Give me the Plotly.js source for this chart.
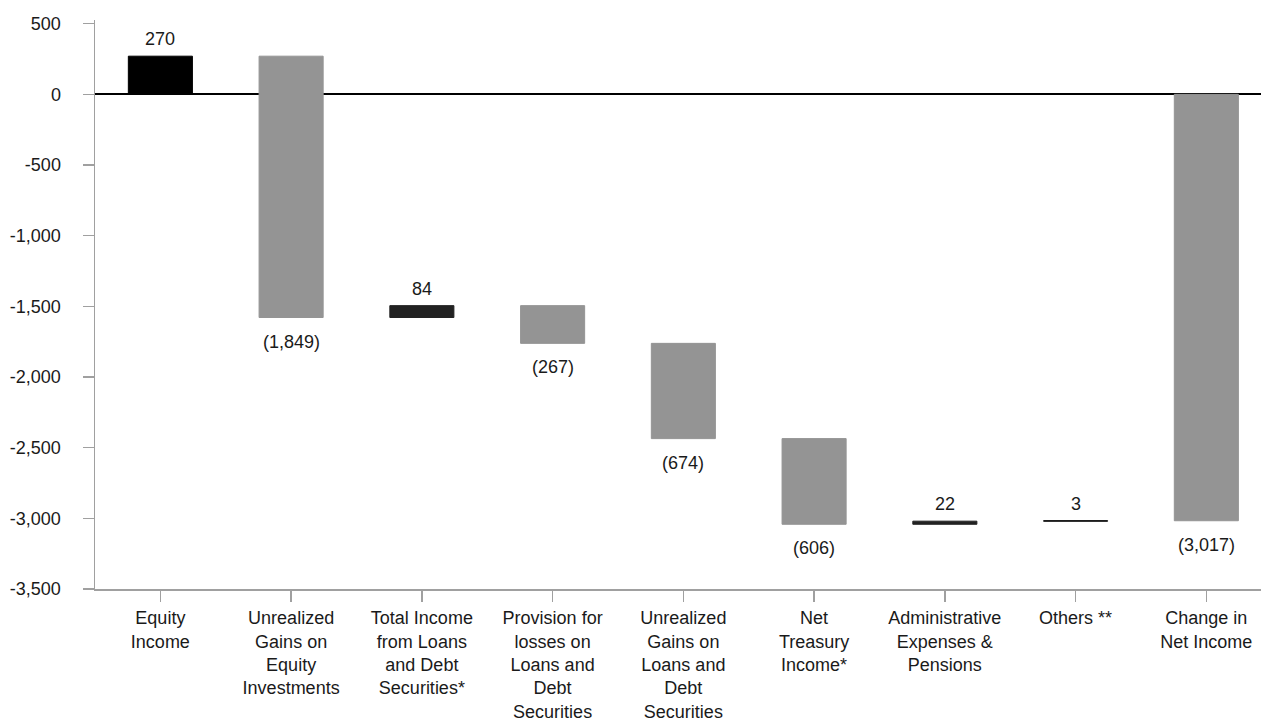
<!DOCTYPE html>
<html>
<head>
<meta charset="utf-8">
<script src="https://cdn.plot.ly/plotly-3.0.1.min.js"></script>
<style>
html,body{margin:0;padding:0;background:#fff;}
#chart{width:1261px;height:721px;}
</style>
</head>
<body>
<div id="chart"></div>
<script>
// ---- data ----
const categories = [
  "Equity<br>Income",
  "Unrealized<br>Gains on<br>Equity<br>Investments",
  "Total Income<br>from Loans<br>and Debt<br>Securities*",
  "Provision for<br>losses on<br>Loans and<br>Debt<br>Securities",
  "Unrealized<br>Gains on<br>Loans and<br>Debt<br>Securities",
  "Net<br>Treasury<br>Income*",
  "Administrative<br>Expenses &<br>Pensions",
  "Others **",
  "Change in<br>Net Income"
];
const values = [270, -1849, 84, -267, -674, -606, 22, 3, -3017];
const measures = ["relative","relative","relative","relative","relative","relative","relative","relative","total"];
const yTickVals = [500, 0, -500, -1000, -1500, -2000, -2500, -3000, -3500];
const yTickText = ["500", "0", "-500", "-1,000", "-1,500", "-2,000", "-2,500", "-3,000", "-3,500"];

// ---- styles ----
const barColors = ["#000000","#949494","#222222","#949494","#949494","#949494","#222222","#000000","#949494"];
const FONT = "Liberation Sans, Arial, Helvetica, sans-serif";

// ---- derived (waterfall) ----
const idx = categories.map((c, i) => i);
const bases = [];
const heights = [];
let running = 0;
values.forEach((v, i) => {
  if (measures[i] === "total") {
    bases.push(0);
    heights.push(v);
  } else {
    bases.push(running);
    heights.push(v);
    running += v;
  }
});

function fmt(v) {
  const s = Math.abs(v).toLocaleString("en-US");
  return v < 0 ? "(" + s + ")" : s;
}

const annotations = values.map((v, i) => {
  const end = bases[i] + heights[i];
  const top = Math.max(bases[i], end);
  const bottom = Math.min(bases[i], end);
  const pos = v >= 0;
  return {
    x: i, y: pos ? top : bottom, xref: "x", yref: "y",
    text: fmt(v), showarrow: false,
    yanchor: pos ? "bottom" : "top",
    yshift: pos ? 5 : -12,
    font: {family: FONT, size: 18, color: "#1a1a1a"}
  };
});

const trace = {
  type: "bar",
  x: idx,
  y: heights,
  base: bases,
  marker: {color: barColors, line: {width: 1, color: barColors}},
  hoverinfo: "skip"
};

const layout = {
  width: 1261, height: 721,
  margin: {l: 94.5, r: 0, t: 20, b: 131.5, pad: 0},
  paper_bgcolor: "#ffffff", plot_bgcolor: "#ffffff",
  showlegend: false,
  bargap: 0.51,
  font: {family: FONT, size: 18, color: "#1a1a1a"},
  xaxis: {
    range: [-0.5, 8.418],
    tickmode: "array", tickvals: idx, ticktext: categories,
    showline: true, linecolor: "#a0a0a0", linewidth: 1.5,
    ticks: "outside", ticklen: 11, tickcolor: "#a0a0a0", tickwidth: 1.5,
    ticklabelstandoff: 1,
    showgrid: false, zeroline: false,
    tickfont: {family: FONT, size: 18, color: "#1a1a1a"},
    fixedrange: true
  },
  yaxis: {
    range: [-3500, 526],
    tickmode: "array", tickvals: yTickVals, ticktext: yTickText,
    showline: true, linecolor: "#a0a0a0", linewidth: 1.5,
    ticks: "outside", ticklen: 11, tickcolor: "#a0a0a0", tickwidth: 1.5,
    ticklabelstandoff: 18,
    showgrid: false,
    zeroline: true, zerolinecolor: "#000000", zerolinewidth: 2,
    tickfont: {family: FONT, size: 18, color: "#1a1a1a"},
    fixedrange: true
  },
  annotations: annotations
};

Plotly.newPlot("chart", [trace], layout, {displayModeBar: false, staticPlot: true});
</script>
</body>
</html>
